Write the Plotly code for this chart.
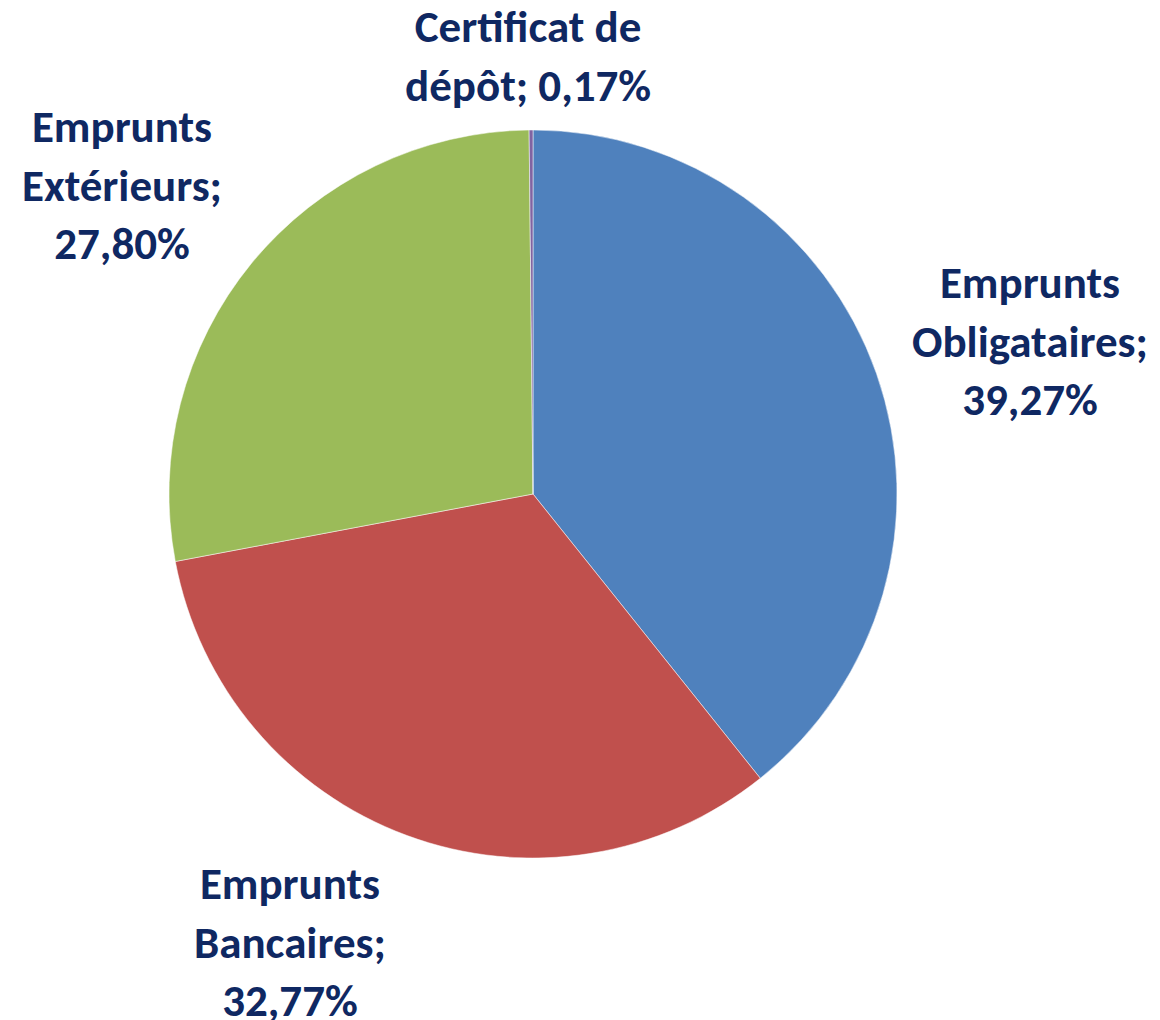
import plotly.graph_objects as go

categories = ["Emprunts Obligataires", "Emprunts Bancaires", "Emprunts Extérieurs", "Certificat de dépôt"]
values = [39.27, 32.77, 27.80, 0.17]
label_text = [
    "Emprunts<br>Obligataires;<br>39,27%",
    "Emprunts<br>Bancaires;<br>32,77%",
    "Emprunts<br>Extérieurs;<br>27,80%",
    "Certificat de<br>dépôt; 0,17%",
]
colors = ["#4F81BD", "#C0504D", "#9BBB59", "#8064A2"]

W, H = 1160, 1020
OFF = 8  # page body margin offset
# label block centres in screen pixels
label_pos = [(1030, 341), (290, 942), (122, 185), (528, 56)]

fig = go.Figure(go.Pie(
    labels=categories,
    values=values,
    sort=False,
    direction="clockwise",
    rotation=0,
    marker=dict(colors=colors, line=dict(color="white", width=0.5)),
    textinfo="none",
    hoverinfo="skip",
    showlegend=False,
    domain=dict(x=[(169 - OFF) / W, (897 - OFF) / W],
                y=[1 - (858 - OFF) / H, 1 - (130 - OFF) / H]),
))

for txt, (px, py) in zip(label_text, label_pos):
    fig.add_annotation(
        x=(px - OFF) / W, y=1 - (py - OFF) / H, xref="paper", yref="paper",
        text="<b>" + txt + "</b>", showarrow=False,
        xanchor="center", yanchor="middle", align="center",
        font=dict(family="Carlito, Lato, sans-serif", size=45, color="#0F2862"),
    )

fig.update_layout(
    width=W, height=H,
    margin=dict(l=0, r=0, t=0, b=0),
    paper_bgcolor="white", plot_bgcolor="white",
)

fig.write_html("out.html")
